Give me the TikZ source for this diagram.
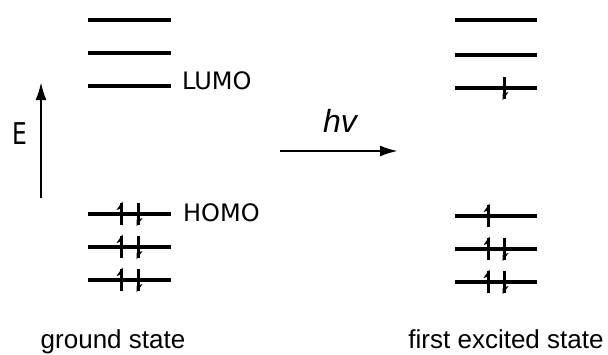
\documentclass[tikz,border=0pt]{standalone}
\usepackage{fontspec}
\setmainfont{Liberation Sans}
\newfontfamily\lblfont{DejaVu Sans}
\usetikzlibrary{arrows.meta}
\begin{document}
\begin{tikzpicture}[x=1pt,y=-1pt,
  level/.style={line width=3.2pt},
  elec/.style={line width=3pt},
  lbl/.style={font=\lblfont\fontsize{24}{26}\selectfont, inner sep=0pt},
  caption/.style={font=\fontsize{26}{28}\selectfont, inner sep=0pt, anchor=base},
  bigarrow/.style={line width=2.4pt, -{Latex[length=18pt,width=11pt]}}]
\useasboundingbox (0,0) rectangle (608,354);
% electron macros
\newcommand{\eup}[2]{%
  \draw[elec] (#1,#2+11) -- (#1,#2-11);
  \fill (#1+1.5,#2-12.5) -- (#1-4.5,#2-4) -- (#1+1.5,#2-6) -- cycle;}
\newcommand{\edown}[2]{%
  \draw[elec] (#1,#2-11) -- (#1,#2+11);
  \fill (#1-1.5,#2+12.5) -- (#1+4.5,#2+4) -- (#1-1.5,#2+6) -- cycle;}
% ground state levels
\foreach \y in {20,53,86,214,247,280} \draw[level] (88,\y) -- (171,\y);
\foreach \y in {214,247,280} {\eup{121}{\y}\edown{138}{\y}}
% excited state levels
\foreach \y in {20,55,88,216,249,282} \draw[level] (455,\y) -- (537,\y);
\edown{504}{88}
\eup{488}{216}
\foreach \y in {249,282} {\eup{488}{\y}\edown{504}{\y}}
% labels
\node[lbl, anchor=base west] (lumo) at (182,89) {LUMO};
\node[lbl, anchor=base west] (homo) at (183,221) {HOMO};
\node[lbl, font=\lblfont\fontsize{30}{30}\selectfont, xscale=0.78] (E) at (20,134) {E};
% energy arrow
\coordinate (Ebot) at (41,198);
\coordinate (Etop) at (41,82);
\draw[bigarrow] (Ebot) -- (Etop);
% hv arrow
\coordinate (hvs) at (280,151);
\coordinate (hve) at (398,151);
\draw[bigarrow] (hvs) -- (hve);
\node[font=\fontsize{32}{34}\selectfont\itshape, inner sep=0pt, anchor=base] (hv) at (340,132) {hv};
% captions
\node[caption] (gs) at (113,348) {ground state};
\node[caption] (fes) at (506,348) {first excited state};
\end{tikzpicture}
\end{document}
